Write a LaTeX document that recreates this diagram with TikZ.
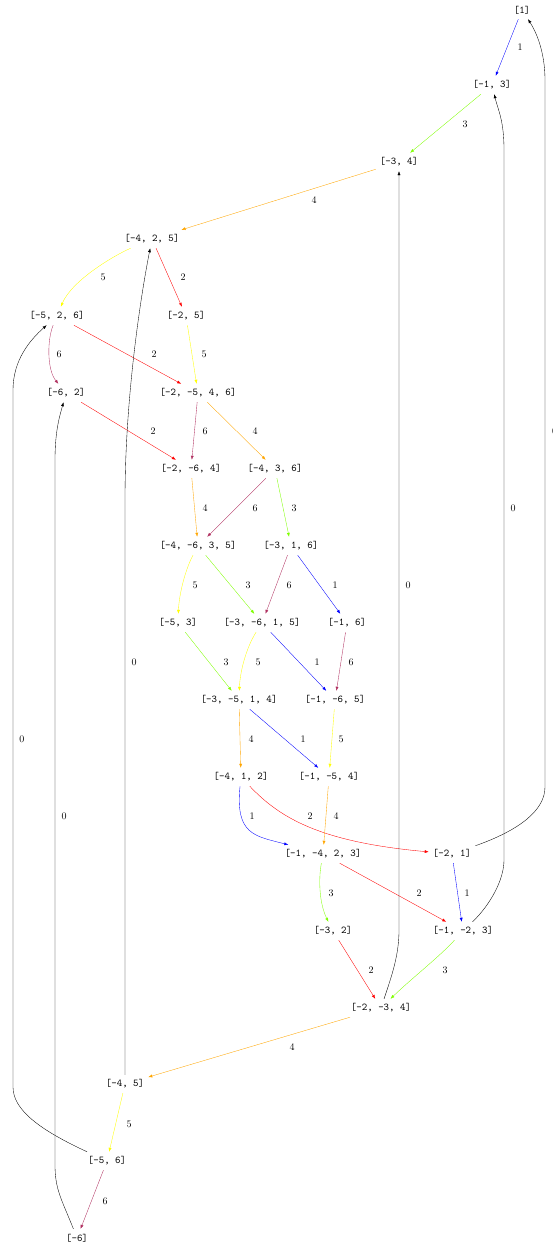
\documentclass[tikz,border=0pt]{standalone}
\usetikzlibrary{arrows.meta}
\definecolor{cOne}{RGB}{0,0,255}
\definecolor{cTwo}{RGB}{255,0,0}
\definecolor{cThree}{RGB}{127,255,0}
\definecolor{cFour}{RGB}{255,165,0}
\definecolor{cFive}{RGB}{255,255,0}
\definecolor{cSix}{RGB}{176,48,96}
\begin{document}
\begin{tikzpicture}[x=1pt,y=-1pt,
  st/.style={draw=none, font=\fontsize{10.4}{12}\ttfamily, inner xsep=4pt, inner ysep=0pt, minimum height=18pt},
  lb/.style={inner sep=0pt},
  ed/.style={-{Latex[length=4pt,width=3pt]}, line width=0.35pt},
  eOne/.style={ed, draw=cOne},
  eTwo/.style={ed, draw=cTwo},
  eThree/.style={ed, draw=cThree},
  eFour/.style={ed, draw=cFour},
  eFive/.style={ed, draw=cFive},
  eSix/.style={ed, draw=cSix},
  eZero/.style={ed, draw=black}]
\useasboundingbox (0,0) rectangle (552,1244);
% nodes
\node[st] (a1) at (522,10) {[1]};
\node[st] (a2) at (492,85) {[-1, 3]};
\node[st] (a3) at (399,162) {[-3, 4]};
\node[st] (a4) at (152,239) {[-4, 2, 5]};
\node[st] (a5) at (57,316) {[-5, 2, 6]};
\node[st] (a6) at (186,316) {[-2, 5]};
\node[st] (a7) at (66,393) {[-6, 2]};
\node[st] (a8) at (198,393) {[-2, -5, 4, 6]};
\node[st] (a9) at (191,469) {[-2, -6, 4]};
\node[st] (a10) at (275,469) {[-4, 3, 6]};
\node[st] (a11) at (198,546) {[-4, -6, 3, 5]};
\node[st] (a12) at (291,546) {[-3, 1, 6]};
\node[st] (a13) at (178,623) {[-5, 3]};
\node[st] (a14) at (262,623) {[-3, -6, 1, 5]};
\node[st] (a15) at (347,623) {[-1, 6]};
\node[st] (a16) at (239,700) {[-3, -5, 1, 4]};
\node[st] (a17) at (335,700) {[-1, -6, 5]};
\node[st] (a18) at (241,777) {[-4, 1, 2]};
\node[st] (a19) at (329,777) {[-1, -5, 4]};
\node[st] (a20) at (323,854) {[-1, -4, 2, 3]};
\node[st] (a21) at (452,854) {[-2, 1]};
\node[st] (a22) at (333,931) {[-3, 2]};
\node[st] (a23) at (463,931) {[-1, -2, 3]};
\node[st] (a24) at (381,1008) {[-2, -3, 4]};
\node[st] (a25) at (125,1084) {[-4, 5]};
\node[st] (a26) at (107,1161) {[-5, 6]};
\node[st] (a27) at (77,1238) {[-6]};
% coloured edges
\draw[eOne] (a1) -- (a2);
\draw[eThree] (a2) -- (a3);
\draw[eFour] (a3) -- (a4);
\draw[eFive] (a4) .. controls (115,255) and (72,280) .. (a5);
\draw[eTwo] (a4) -- (a6);
\draw[eSix] (a5) .. controls (47,340) and (47,370) .. (a7);
\draw[eTwo] (a5) -- (a8);
\draw[eFive] (a6) -- (a8);
\draw[eTwo] (a7) -- (a9);
\draw[eSix] (a8) -- (a9);
\draw[eFour] (a8) -- (a10);
\draw[eFour] (a9) -- (a11);
\draw[eSix] (a10) -- (a11);
\draw[eThree] (a10) -- (a12);
\draw[eFive] (a11) .. controls (185,570) and (179,595) .. (a13);
\draw[eThree] (a11) -- (a14);
\draw[eSix] (a12) -- (a14);
\draw[eOne] (a12) -- (a15);
\draw[eThree] (a13) -- (a16);
\draw[eFive] (a14) .. controls (246,648) and (240,672) .. (a16);
\draw[eOne] (a14) -- (a17);
\draw[eSix] (a15) -- (a17);
\draw[eFour] (a16) -- (a18);
\draw[eOne] (a16) -- (a19);
\draw[eFive] (a17) -- (a19);
\draw[eOne] (a18) .. controls (235,835) and (255,836) .. (a20);
\draw[eTwo] (a18) .. controls (280,818) and (320,842) .. (a21);
\draw[eFour] (a19) -- (a20);
\draw[eThree] (a20) .. controls (318,882) and (320,905) .. (a22);
\draw[eTwo] (a20) -- (a23);
\draw[eOne] (a21) -- (a23);
\draw[eTwo] (a22) -- (a24);
\draw[eThree] (a23) .. controls (438,958) and (412,978) .. (a24);
\draw[eFour] (a24) -- (a25);
\draw[eFive] (a25) -- (a26);
\draw[eSix] (a26) -- (a27);
% black return edges
\draw[eZero] (a21) .. controls (520,830) and (545,810) .. (545,787) -- (545,80) .. controls (545,50) and (535,30) .. (a1);
\draw[eZero] (a23) .. controls (490,905) and (504,880) .. (504,860) -- (504,150) .. controls (504,120) and (498,110) .. (a2);
\draw[eZero] (a24) .. controls (392,975) and (399,955) .. (399,930) -- (a3);
\draw[eZero] (a25) -- (125,500) .. controls (125,400) and (140,300) .. (a4);
\draw[eZero] (a26) .. controls (40,1130) and (13,1110) .. (13,1087) -- (13,390) .. controls (13,360) and (30,340) .. (a5);
\draw[eZero] (a27) .. controls (62,1200) and (55,1190) .. (55,1165) -- (55,460) .. controls (55,430) and (60,415) .. (a7);
% edge labels
\node[lb] (l1) at (520,47) {1};
\node[lb] (l2) at (465,124) {3};
\node[lb] (l3) at (314,200) {4};
\node[lb] (l4) at (103,277) {5};
\node[lb] (l5) at (183,277) {2};
\node[lb] (l6) at (59,354) {6};
\node[lb] (l7) at (154,354) {2};
\node[lb] (l8) at (204,354) {5};
\node[lb] (l9) at (153,431) {2};
\node[lb] (l10) at (205,431) {6};
\node[lb] (l11) at (255,431) {4};
\node[lb] (l12) at (205,508) {4};
\node[lb] (l13) at (255,508) {6};
\node[lb] (l14) at (294,508) {3};
\node[lb] (l15) at (195,585) {5};
\node[lb] (l16) at (248,585) {3};
\node[lb] (l17) at (289,585) {6};
\node[lb] (l18) at (335,585) {1};
\node[lb] (l19) at (226,662) {3};
\node[lb] (l20) at (258,662) {5};
\node[lb] (l21) at (317,662) {1};
\node[lb] (l22) at (351,662) {6};
\node[lb] (l23) at (251,739) {4};
\node[lb] (l24) at (303,739) {1};
\node[lb] (l25) at (341,739) {5};
\node[lb] (l26) at (252,816) {1};
\node[lb] (l27) at (310,816) {2};
\node[lb] (l28) at (336,816) {4};
\node[lb] (l29) at (331,893) {3};
\node[lb] (l30) at (419,893) {2};
\node[lb] (l31) at (467,893) {1};
\node[lb] (l32) at (371,970) {2};
\node[lb] (l33) at (445,970) {3};
\node[lb] (l34) at (292,1047) {4};
\node[lb] (l35) at (129,1124) {5};
\node[lb] (l36) at (105,1201) {6};
\node[lb] (z1) at (554.5,431) {0};
\node[lb] (z2) at (513,508) {0};
\node[lb] (z3) at (408,585) {0};
\node[lb] (z4) at (134,662) {0};
\node[lb] (z5) at (22,739) {0};
\node[lb] (z6) at (64,816) {0};
\end{tikzpicture}
\end{document}
